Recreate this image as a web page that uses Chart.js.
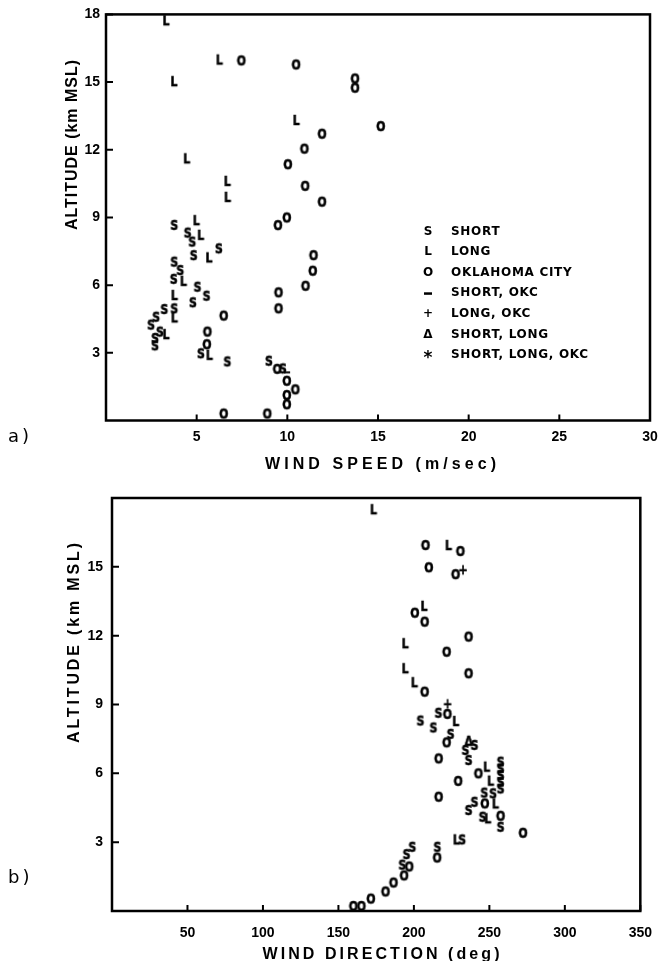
<!DOCTYPE html>
<html><head><meta charset="utf-8">
<script src="https://cdn.jsdelivr.net/npm/chart.js@4/dist/chart.umd.min.js"></script>
<style>
html,body{margin:0;padding:0;background:#fff;}
#wrap{position:relative;width:666px;height:961px;overflow:hidden;background:#fff;}
canvas{position:absolute;left:0;}
#ca{top:0px;} #cb{top:480px;}
.pl{position:absolute;left:8px;font:18px "DejaVu Sans";line-height:20px;letter-spacing:3px;color:#000;}
</style></head><body>
<div id="wrap">
<canvas id="ca" width="666" height="480"></canvas>
<canvas id="cb" width="666" height="481"></canvas>
<div class="pl" style="top:426px">a)</div>
<div class="pl" style="top:867px">b)</div>
</div>
<script>
// ---------- legend ----------
const legendSymbols = ['S', 'L', 'O', '–', '+', 'Δ', '*'];
const legendLabels = ['SHORT', 'LONG', 'OKLAHOMA CITY', 'SHORT, OKC', 'LONG, OKC', 'SHORT, LONG', 'SHORT, LONG, OKC'];

// ---------- tick labels ----------
const speedTicks = [5, 10, 15, 20, 25, 30];
const altTicksA = [3, 6, 9, 12, 15, 18];
const dirTicks = [50, 100, 150, 200, 250, 300, 350];
const altTicksB = [3, 6, 9, 12, 15];

// ---------- panel a: wind speed (m/sec) vs altitude (km MSL) ----------
const speedShort = [[3.77,8.67],[4.51,8.33],[4.76,7.93],[6.23,7.63],[4.84,7.33],[3.77,7.04],[4.1,6.67],[3.74,6.28],[5.05,5.93],[5.55,5.53],[4.8,5.24],[3.22,4.94],[3.77,4.97],[2.77,4.6],[2.49,4.25],[2.98,3.94],[2.71,3.66],[2.71,3.33],[5.24,2.98],[6.7,2.62],[8.99,2.65],[9.76,2.31]];
const speedLong = [[3.31,17.74],[6.25,16.0],[3.75,15.04],[10.49,13.32],[4.45,11.62],[6.69,10.62],[6.7,9.91],[4.98,8.88],[5.22,8.23],[5.68,7.23],[4.27,6.19],[3.77,5.56],[3.77,4.57],[3.31,3.83],[5.7,2.91]];
const speedOkc = [[7.47,15.96],[10.49,15.78],[13.74,15.16],[13.74,14.75],[15.16,13.05],[11.92,12.71],[10.95,12.05],[10.04,11.36],[10.99,10.4],[11.92,9.7],[9.98,9.0],[9.49,8.66],[11.45,7.33],[11.41,6.64],[11.01,5.97],[9.52,5.68],[9.52,4.97],[6.5,4.65],[5.6,3.94],[5.57,3.38],[9.45,2.29],[9.98,1.76],[10.45,1.38],[9.98,1.13],[9.98,0.72],[6.5,0.31],[8.9,0.31]];
const speedShortOkc = [[9.98,1.76]];
const speedLongOkc = [];
const speedShortLong = [];
const speedAll = [];

// ---------- panel b: wind direction (deg) vs altitude (km MSL) ----------
const dirShort = [[216.3,8.64],[204.4,8.3],[213,8.0],[224.4,7.72],[240.2,7.24],[234.2,7.02],[236.3,6.58],[257.5,6.51],[257.5,6.22],[257.5,5.93],[257.5,5.63],[257.5,5.34],[246.7,5.16],[252.5,5.13],[240.2,4.76],[236.3,4.4],[245.6,4.11],[257.5,3.67],[232,3.12],[199,2.8],[215.6,2.8],[195.2,2.48],[192.4,2.02]];
const dirLong = [[173.2,17.51],[222.9,15.95],[206.7,13.3],[194.2,11.67],[194.2,10.58],[200.3,9.97],[227.7,8.28],[248.2,6.29],[250.8,5.68],[254,4.69],[248.9,4.04],[228.1,3.12]];
const dirOkc = [[207.8,15.95],[230.9,15.69],[210,14.98],[227.7,14.68],[200.7,13.0],[207.2,12.61],[236.3,11.96],[221.8,11.3],[236.3,10.36],[207.2,9.56],[222.3,8.59],[221.8,7.35],[216.5,6.65],[242.8,6.0],[229.4,5.67],[216.5,4.98],[247.1,4.69],[257.5,4.15],[272.4,3.41],[215.5,2.33],[197,1.94],[193.6,1.55],[186.6,1.24],[181.3,0.85],[171.6,0.54],[165.3,0.22],[160,0.22]];
const dirShortOkc = [];
const dirLongOkc = [[222.3,9.05],[232.5,14.89]];
const dirShortLong = [[236.3,7.42]];
const dirAll = [];

// ---------- drawing helpers ----------
const GLYPH_FONT = 'bold 14px "DejaVu Sans"';
function glyph(ch) {
  const c = document.createElement('canvas');
  c.width = 20; c.height = 20;
  const g = c.getContext('2d');
  g.fillStyle = '#000';
  g.strokeStyle = '#000';
  g.translate(10, 10);
  g.scale(0.78, 1);
  if (ch === '–') {
    g.fillRect(-4, -9.5, 8, 2);   // bar drawn over the coincident O
  } else {
    g.font = GLYPH_FONT;
    g.textAlign = 'center';
    g.textBaseline = 'alphabetic';
    g.lineWidth = 0.6;
    g.fillText(ch, 0, 5.1);
    g.strokeText(ch, 0, 5.1);
  }
  return c;
}

function spaced(ctx, text, cx, cy, width, font, rot) {
  ctx.save();
  ctx.font = font;
  ctx.letterSpacing = '0px';
  const w0 = ctx.measureText(text).width;
  const ls = (width - w0) / (text.length - 1);
  ctx.letterSpacing = ls + 'px';
  ctx.translate(cx, cy);
  if (rot) ctx.rotate(rot);
  ctx.textAlign = 'left';
  ctx.textBaseline = 'middle';
  ctx.fillText(text, -width / 2, 0);
  ctx.restore();
}

const decor = {
  id: 'decor',
  afterDraw(chart, args, o) {
    const ctx = chart.ctx, a = chart.chartArea, xs = chart.scales.x, ys = chart.scales.y;
    ctx.save();
    ctx.strokeStyle = '#000';
    ctx.lineWidth = 2.5;
    ctx.strokeRect(a.left, a.top, a.right - a.left, a.bottom - a.top);
    ctx.lineWidth = 2;
    ctx.beginPath();
    xs.ticks.forEach(t => { const p = xs.getPixelForValue(t.value); ctx.moveTo(p, a.bottom); ctx.lineTo(p, a.bottom - 6); });
    ys.ticks.forEach(t => { const p = ys.getPixelForValue(t.value); ctx.moveTo(a.left, p); ctx.lineTo(a.left + 7, p); });
    ctx.stroke();
    ctx.fillStyle = '#000';
    spaced(ctx, o.xTitle, o.xTitleX, o.xTitleY, o.xTitleW, o.titleFont, 0);
    spaced(ctx, o.yTitle, o.yTitleX, o.yTitleY, o.yTitleW, o.titleFont, -Math.PI / 2);
    if (o.legend) {
      ctx.font = 'bold 12px "DejaVu Sans"';
      ctx.textBaseline = 'middle';
      chart.data.datasets.forEach((d, i) => {
        const yy = o.legendY + i * o.legendStep;
        ctx.letterSpacing = '0px';
        ctx.textAlign = 'center';
        if (d.sym === '–') {
          ctx.fillRect(o.legendSymX - 4, yy - 1, 8, 2.5);
        } else if (d.sym === '*') {
          ctx.save(); ctx.font = 'bold 17px "DejaVu Sans"';
          ctx.fillText('*', o.legendSymX, yy + 3); ctx.restore();
        } else {
          ctx.fillText(d.sym, o.legendSymX, yy);
        }
        ctx.letterSpacing = '0.7px';
        ctx.textAlign = 'left';
        ctx.fillText(d.label, o.legendTextX, yy);
      });
    }
    ctx.restore();
  }
};

function makeChart(id, cfg) {
  const series = [cfg.s, cfg.l, cfg.o, cfg.so, cfg.lo, cfg.sl, cfg.all];
  return new Chart(document.getElementById(id), {
    type: 'scatter',
    data: {
      datasets: series.map((arr, i) => ({
        label: legendLabels[i],
        sym: legendSymbols[i],
        data: arr.map(([x, y]) => ({ x, y })),
        pointStyle: glyph(legendSymbols[i]),
        pointRadius: 5,
        pointHoverRadius: 5,
        clip: false,
        showLine: false
      }))
    },
    options: {
      responsive: false,
      animation: false,
      devicePixelRatio: 1,
      events: [],
      layout: { padding: { left: 0, top: cfg.padTop, right: cfg.padRight, bottom: 0 } },
      plugins: {
        legend: { display: false },
        tooltip: { enabled: false },
        decor: cfg.decor
      },
      scales: {
        x: {
          type: 'linear', min: cfg.xmin, max: cfg.xmax,
          afterBuildTicks: s => { s.ticks = cfg.xticks.map(v => ({ value: v })); },
          afterFit: s => { s.height = cfg.xh; },
          grid: { display: false, drawTicks: false },
          border: { display: false },
          ticks: { padding: cfg.xpad, color: '#000', maxRotation: 0, autoSkip: false,
                   font: { family: 'Liberation Sans', size: 14, weight: 'bold' } }
        },
        y: {
          type: 'linear', min: 0, max: 18,
          afterBuildTicks: s => { s.ticks = cfg.yticks.map(v => ({ value: v })); },
          afterFit: s => { s.width = cfg.yw; },
          grid: { display: false, drawTicks: false },
          border: { display: false },
          ticks: { padding: cfg.ypad, color: '#000', autoSkip: false,
                   font: { family: 'Liberation Sans', size: 14, weight: 'bold' } }
        }
      }
    },
    plugins: [decor]
  });
}

makeChart('ca', {
  s: speedShort, l: speedLong, o: speedOkc, so: speedShortOkc, lo: speedLongOkc, sl: speedShortLong, all: speedAll,
  xmin: 0, xmax: 30, xticks: speedTicks, yticks: altTicksA,
  padTop: 13.5, padRight: 16, xh: 59.5, yw: 106, xpad: 8, ypad: 6,
  decor: {
    xTitle: 'WIND SPEED (m/sec)', xTitleX: 380.5, xTitleY: 465, xTitleW: 231,
    yTitle: 'ALTITUDE (km MSL)', yTitleX: 73, yTitleY: 145, yTitleW: 170,
    titleFont: 'bold 16px "Liberation Sans"',
    legend: true, legendY: 231.5, legendStep: 20.6, legendSymX: 428, legendTextX: 451
  }
});

makeChart('cb', {
  s: dirShort, l: dirLong, o: dirOkc, so: dirShortOkc, lo: dirLongOkc, sl: dirShortLong, all: dirAll,
  xmin: 0, xmax: 350, xticks: dirTicks, yticks: altTicksB,
  padTop: 18, padRight: 14, xh: 50, yw: 112, xpad: 14, ypad: 9,
  decor: {
    xTitle: 'WIND DIRECTION (deg)', xTitleX: 381, xTitleY: 475, xTitleW: 237,
    yTitle: 'ALTITUDE (km MSL)', yTitleX: 75, yTitleY: 163, yTitleW: 200,
    titleFont: 'bold 16px "Liberation Sans"',
    legend: false
  }
});
</script>
</body></html>
